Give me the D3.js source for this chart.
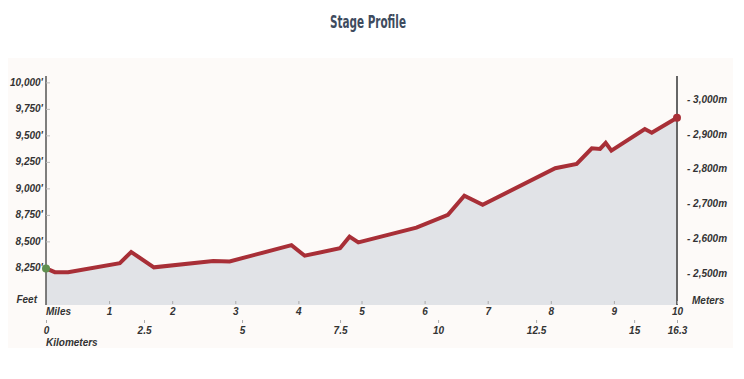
<!DOCTYPE html>
<html>
<head>
<meta charset="utf-8">
<script src="https://cdn.jsdelivr.net/npm/d3@7"></script>
<style>
  body { margin: 0; background: #fff; }
  svg text { font-family: "Liberation Sans", Arial, sans-serif; font-style: italic; font-weight: bold; fill: #333; }
</style>
</head>
<body>
<div id="chart"></div>
<script>
// Elevation profile
let miles = [0, 0.14, 0.35, 1.17, 1.35, 1.71, 2.65, 2.91, 3.89, 4.10, 4.66, 4.81, 4.95, 5.87, 6.37, 6.63, 6.92, 8.07, 8.41, 8.65, 8.78, 8.87, 8.96, 9.49, 9.60, 10.0];
let feet = [8245, 8210, 8210, 8295, 8400, 8255, 8315, 8310, 8465, 8365, 8435, 8545, 8490, 8630, 8750, 8930, 8845, 9190, 9230, 9378, 9372, 9430, 9356, 9560, 9525, 9667];

let feetTicks = [8250, 8500, 8750, 9000, 9250, 9500, 9750, 10000];
let meterTicks = [2500, 2600, 2700, 2800, 2900, 3000];
let mileTicks = [1, 2, 3, 4, 5, 6, 7, 8, 9, 10];
let kmTicks = [0, 2.5, 5, 7.5, 10, 12.5, 15, 16.3];

let data = miles.map((m, i) => ({ mi: m, ft: feet[i] }));

let width = 744, height = 379;
let margin = { left: 46, right: 677, top: 76, bottom: 305 };

let svg = d3.select('#chart').append('svg')
  .attr('width', width)
  .attr('height', height);

// light panel behind the chart
svg.append('rect')
  .attr('x', 8).attr('y', 58)
  .attr('width', 725).attr('height', 290)
  .attr('fill', '#fdfaf8');

// title
svg.append('text')
  .attr('x', 368).attr('y', 28)
  .attr('text-anchor', 'middle')
  .attr('textLength', 76)
  .attr('lengthAdjust', 'spacingAndGlyphs')
  .style('font-family', '"DejaVu Sans Condensed", "Liberation Sans", sans-serif')
  .style('font-style', 'normal')
  .style('font-weight', 'bold')
  .style('font-size', '18px')
  .style('fill', '#3e4b5e')
  .text('Stage Profile');

let x = d3.scaleLinear().domain([0, 10]).range([margin.left, margin.right]);
let xKm = d3.scaleLinear().domain([0, 10 * 1.609344]).range([margin.left, margin.right]).clamp(true);
let y = d3.scaleLinear().domain([7900, 10060]).range([margin.bottom, margin.top]);
let yM = d3.scaleLinear().domain([7900 * 0.3048, 10060 * 0.3048]).range([margin.bottom, margin.top]);

// area under the profile
let area = d3.area()
  .x(d => x(d.mi))
  .y0(margin.bottom)
  .y1(d => y(d.ft));

svg.append('path')
  .datum(data)
  .attr('d', area)
  .attr('fill', '#e1e3e7');

// left axis (feet)
let yAxis = d3.axisRight(y)
  .tickValues(feetTicks)
  .tickSize(4)
  .tickFormat(d => '');
let gy = svg.append('g')
  .attr('transform', 'translate(' + margin.left + ',0)')
  .call(yAxis);
gy.select('.domain').attr('stroke', '#555').attr('stroke-width', 1.5).attr('d', 'M0,' + margin.top + 'V' + margin.bottom);
gy.selectAll('.tick line').attr('stroke', '#bbb');

svg.selectAll('.ft-label')
  .data(feetTicks)
  .enter()
  .append('text')
  .attr('class', 'ft-label')
  .attr('x', margin.left - 3)
  .attr('y', d => y(d))
  .attr('dy', '0.35em')
  .attr('text-anchor', 'end')
  .style('font-size', '10px')
  .text(d => d3.format(',')(d) + "'");

svg.append('text')
  .attr('x', 37).attr('y', margin.bottom - 2)
  .attr('text-anchor', 'end')
  .style('font-size', '10px')
  .text('Feet');

// right axis (meters)
let yMAxis = d3.axisRight(yM)
  .tickValues(meterTicks)
  .tickSize(0)
  .tickPadding(10)
  .tickFormat(d => '- ' + d3.format(',')(d) + 'm');
let gm = svg.append('g')
  .attr('transform', 'translate(' + margin.right + ',0)')
  .call(yMAxis);
gm.select('.domain').attr('stroke', '#666').attr('stroke-width', 2).attr('d', 'M0,' + margin.top + 'V' + margin.bottom);
gm.selectAll('.tick text')
  .style('font-size', '10px')
  .style('font-family', '"Liberation Sans", Arial, sans-serif');

svg.append('text')
  .attr('x', 692).attr('y', margin.bottom - 1)
  .style('font-size', '10px')
  .text('Meters');

// miles axis
let xAxis = d3.axisBottom(x)
  .tickValues(mileTicks)
  .tickSize(3)
  .tickPadding(4)
  .tickFormat(d3.format('d'));
let gx = svg.append('g')
  .attr('transform', 'translate(0,' + (margin.bottom - 4) + ')')
  .call(xAxis);
gx.select('.domain').remove();
gx.selectAll('.tick line').attr('stroke', '#aaa');
gx.selectAll('.tick text')
  .style('font-size', '10px')
  .style('font-family', '"Liberation Sans", Arial, sans-serif');

svg.append('text')
  .attr('x', margin.left).attr('y', margin.bottom + 10)
  .style('font-size', '10px')
  .text('Miles');

// kilometers axis
let kmAxis = d3.axisBottom(xKm)
  .tickValues(kmTicks)
  .tickSize(3)
  .tickPadding(4)
  .tickFormat(d => d);
let gk = svg.append('g')
  .attr('transform', 'translate(0,' + (margin.bottom + 15) + ')')
  .call(kmAxis);
gk.select('.domain').remove();
gk.selectAll('.tick line').attr('stroke', '#aaa');
gk.selectAll('.tick text')
  .style('font-size', '10px')
  .style('font-family', '"Liberation Sans", Arial, sans-serif');

svg.append('text')
  .attr('x', margin.left).attr('y', margin.bottom + 41)
  .style('font-size', '10px')
  .text('Kilometers');

// profile line
let line = d3.line()
  .x(d => x(d.mi))
  .y(d => y(d.ft));

svg.append('path')
  .datum(data)
  .attr('d', line)
  .attr('fill', 'none')
  .attr('stroke', '#a82f37')
  .attr('stroke-width', 4)
  .attr('stroke-linejoin', 'miter');

// start and finish markers
svg.append('circle')
  .attr('cx', x(data[0].mi))
  .attr('cy', y(data[0].ft))
  .attr('r', 4)
  .attr('fill', '#5f8f4e');

svg.append('circle')
  .attr('cx', x(data[data.length - 1].mi))
  .attr('cy', y(data[data.length - 1].ft))
  .attr('r', 4)
  .attr('fill', '#a82f37');
</script>
</body>
</html>
